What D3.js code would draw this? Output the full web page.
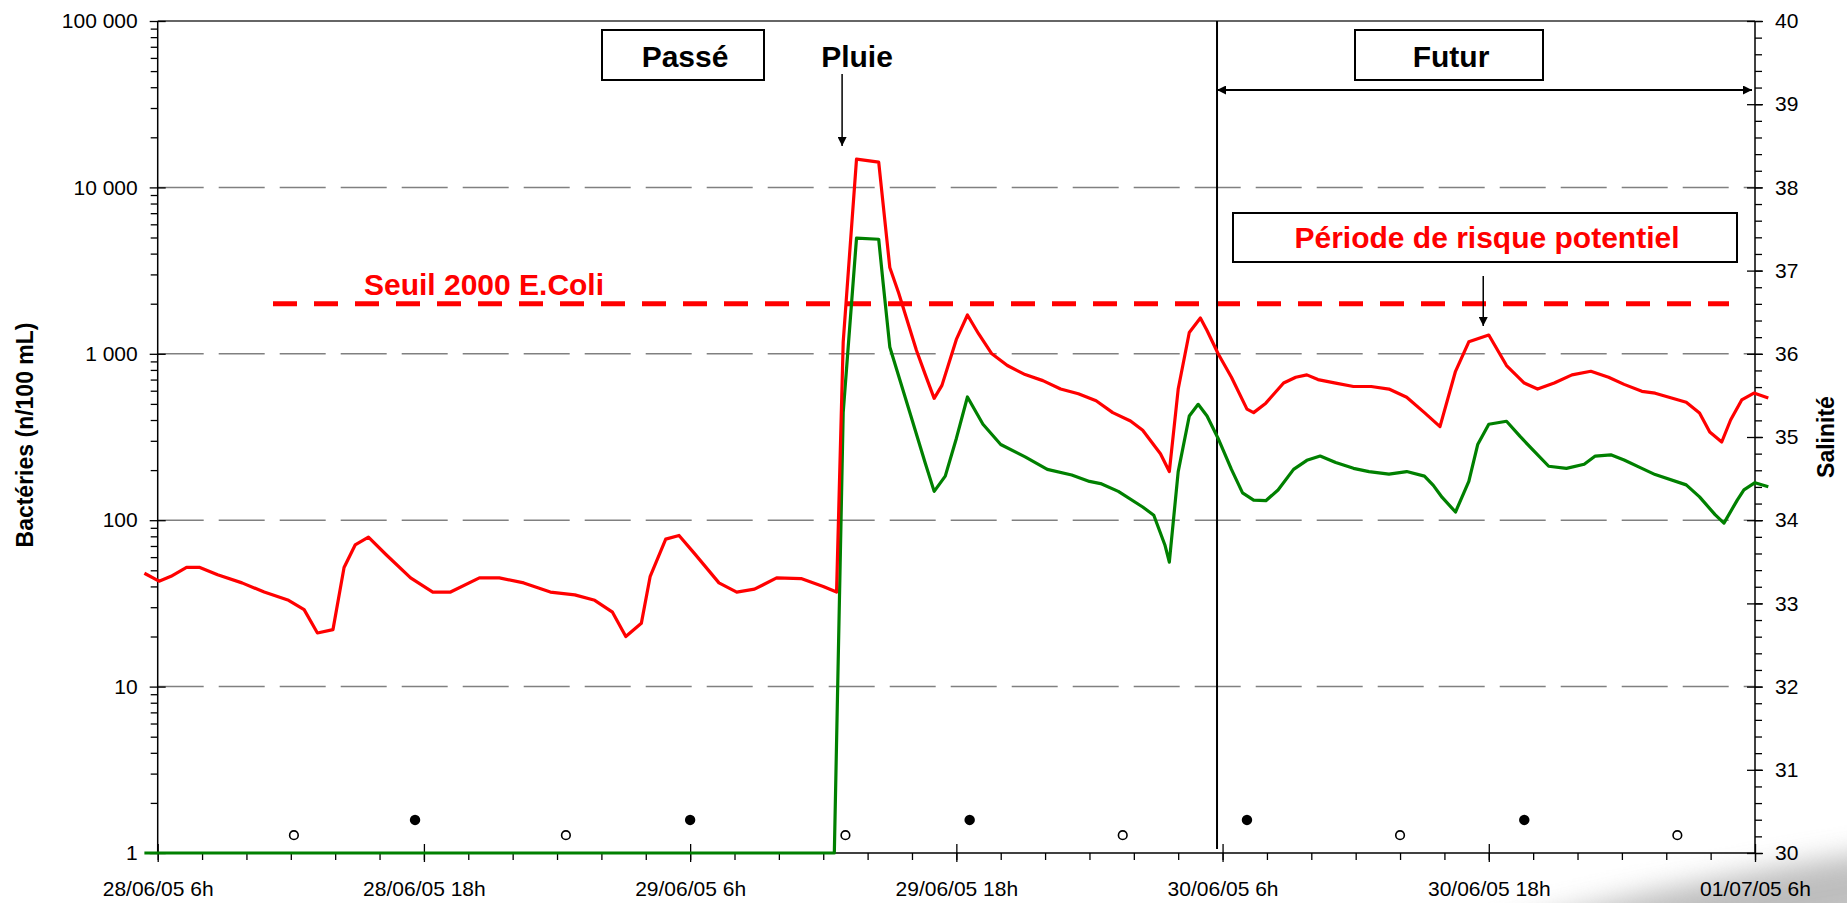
<!DOCTYPE html>
<html>
<head>
<meta charset="utf-8">
<script src="https://cdn.jsdelivr.net/npm/d3@7"></script>
<style>
  body { margin: 0; background: #fff; }
  svg { display: block; font-family: "Liberation Sans", Arial, sans-serif; }
</style>
</head>
<body>
<div class="chart"></div>
<script>
(function() {
  'use strict';

  const WIDTH = 1847;
  const HEIGHT = 903;

  // Time origin: 28/06/05 6h, all series given in hours after it
  const START = new Date(2005, 5, 28, 6);
  const X_TICK_HOURS = [0, 12, 24, 36, 48, 60, 72];
  const LEFT_TICKS = [1, 10, 100, 1000, 10000, 100000];
  const RIGHT_TICKS = [30, 31, 32, 33, 34, 35, 36, 37, 38, 39, 40];
  const THRESHOLD = 2000;

  // Red series (E.Coli)
  const RED_HOURS = [-0.6, 0.06, 0.6, 1.3, 1.9, 2.7, 3.8, 4.8, 5.9, 6.6, 7.2, 7.9, 8.4, 8.9, 9.5,
    10.3, 11.4, 12.4, 13.2, 14.5, 15.4, 16.5, 17.7, 18.8, 19.7, 20.5, 21.1, 21.8, 22.2, 22.9,
    23.5, 24.2, 25.3, 26.1, 26.9, 27.9, 29.0, 30.0, 30.6, 30.9, 31.5, 32.5, 33.0, 33.4, 34.2,
    34.6, 35.0, 35.35, 36.0, 36.5, 37.0, 37.6, 38.3, 39.1, 39.9, 40.7, 41.5, 42.3, 43.05, 43.85,
    44.4, 45.2, 45.6, 46.0, 46.5, 47.0, 47.3, 47.8, 48.4, 49.1, 49.4, 49.95, 50.75, 51.3, 51.8,
    52.3, 53.1, 53.9, 54.7, 55.5, 56.3, 57.1, 57.8, 58.5, 59.1, 60.0, 60.8, 61.6, 62.2, 62.95,
    63.75, 64.6, 65.4, 66.1, 66.9, 67.5, 68.9, 69.5, 69.96, 70.5, 70.9, 71.4, 71.95, 72.6];
  const RED_VALUES = [48, 43, 46, 52, 52, 47, 42, 37, 33, 29, 21, 22, 52, 71, 79,
    62, 45, 37, 37, 45, 45, 42, 37, 35.6, 33, 28, 20, 24, 46, 77,
    81, 63, 42, 37, 38.5, 45, 44.6, 40, 37, 1180, 14800, 14200, 3300, 2320, 1050,
    750, 540, 646, 1220, 1710, 1320, 1000, 850, 750, 690, 615, 575, 522, 443, 395,
    347, 251, 196, 614, 1343, 1640, 1380, 1000, 723, 465, 443, 505, 667, 723, 747,
    700, 667, 636, 636, 614, 548, 443, 365, 785, 1180, 1297, 850, 667, 614, 667,
    747, 785, 723, 655, 595, 580, 512, 441, 339, 295, 400, 528, 581, 542];

  // Green series
  const GREEN_HOURS = [-0.6, 30.5, 30.9, 31.5, 32.5, 32.7, 33.0, 33.9, 34.6, 35.0, 35.5, 36.0,
    36.5, 37.2, 38.0, 39.1, 40.1, 41.2, 42.0, 42.5, 43.3, 44.4, 44.9, 45.4, 45.6, 46.0, 46.5,
    46.9, 47.3, 47.8, 48.4, 48.9, 49.4, 49.95, 50.5, 51.2, 51.8, 52.4, 53.1, 53.9, 54.6, 55.5,
    56.3, 57.1, 57.5, 57.9, 58.5, 59.1, 59.5, 60.0, 60.8, 61.4, 61.9, 62.7, 63.5, 64.3, 64.8,
    65.5, 66.1, 66.9, 67.5, 68.9, 69.5, 70.2, 70.6, 71.2, 71.5, 72.0, 72.6];
  const GREEN_VALUES = [1, 1, 445, 4960, 4880, 2660, 1100, 445, 220, 149, 184, 310,
    550, 377, 285, 240, 202, 187, 171, 166, 149, 120, 107, 71, 56, 196, 423,
    497, 423, 310, 202, 146, 132, 131, 152, 202, 229, 243, 222, 205, 196, 189,
    196, 184, 162, 137, 112, 171, 285, 377, 393, 320, 272, 211, 205, 217, 243,
    247, 230, 205, 188, 163, 138, 108, 96, 132, 152, 168, 159];

  // Tide markers (open = low, filled = high)
  const LOW_TIDE_HOURS = [6.14, 18.4, 31.0, 43.5, 56.0, 68.5];
  const HIGH_TIDE_HOURS = [11.6, 24.0, 36.6, 49.1, 61.6];
  const LOW_TIDE_LEVEL = 1.28;
  const HIGH_TIDE_LEVEL = 1.58;

  // Annotation anchors (hours)
  const NOW_HOUR = 47.75;
  const RAIN_HOUR = 30.85;
  const RISK_HOUR = 59.75;

  const hour = function(h) { return new Date(START.getTime() + h * 3600e3); };

  const x = d3.scaleTime()
    .domain([hour(0), hour(72)])
    .range([157.7, 1755]);
  const y = d3.scaleLog()
    .domain([1, 100000])
    .range([853, 21]);
  const yR = d3.scaleLinear()
    .domain([30, 40])
    .range([853, 21]);

  const svg = d3.select('.chart')
    .append('svg')
    .attr('width', WIDTH)
    .attr('height', HEIGHT);

  const defs = svg.append('defs');
  defs.append('marker')
    .attr('id', 'arrow')
    .attr('viewBox', '0 0 10 10')
    .attr('refX', 10).attr('refY', 5)
    .attr('markerUnits', 'userSpaceOnUse')
    .attr('markerWidth', 10).attr('markerHeight', 9)
    .attr('orient', 'auto-start-reverse')
    .append('path').attr('d', 'M0,0L10,5L0,10z').attr('fill', '#000');
  defs.append('filter')
    .attr('id', 'blur')
    .attr('x', '-50%').attr('y', '-50%').attr('width', '200%').attr('height', '200%')
    .append('feGaussianBlur').attr('stdDeviation', 14);

  // corner shadow
  svg.append('ellipse')
    .attr('cx', 1790).attr('cy', 900)
    .attr('rx', 360).attr('ry', 34)
    .attr('transform', 'rotate(-10 1790 900)')
    .attr('fill', '#a8a8a8')
    .attr('opacity', 0.75)
    .attr('filter', 'url(#blur)');

  const fmt = d3.formatLocale({decimal: ',', thousands: ' ', grouping: [3], currency: ['', '']}).format(',');

  // Grid lines
  svg.append('g')
    .selectAll('line')
    .data(LEFT_TICKS.slice(1, -1))
    .join('line')
    .attr('x1', x.range()[0]).attr('x2', x.range()[1])
    .attr('y1', d => y(d)).attr('y2', d => y(d))
    .attr('stroke', '#808080')
    .attr('stroke-width', 1.5)
    .attr('stroke-dasharray', '46,15');
  svg.append('line')
    .attr('x1', x.range()[0]).attr('x2', x.range()[1])
    .attr('y1', y(100000)).attr('y2', y(100000))
    .attr('stroke', '#333').attr('stroke-width', 1.5);

  // Left axis
  const minorLeft = [];
  LEFT_TICKS.slice(0, -1).forEach(function(d) {
    for (let k = 2; k < 10; ++k) minorLeft.push(d * k);
  });
  svg.append('g')
    .attr('transform', 'translate(' + x.range()[0] + ',0)')
    .call(d3.axisLeft(y).tickValues(minorLeft).tickSize(7).tickFormat(''))
    .call(g => g.select('.domain').remove());
  const gL = svg.append('g')
    .attr('transform', 'translate(' + x.range()[0] + ',0)')
    .call(d3.axisLeft(y).tickValues(LEFT_TICKS).tickSize(8).tickPadding(12).tickFormat(fmt));
  gL.selectAll('.tick line').attr('x1', 8);
  gL.select('.domain').attr('d', 'M0,' + y(1) + 'V' + y(100000)).attr('stroke-width', 1.5);

  // Right axis
  const minorRight = d3.range(30, 40.01, 0.2);
  svg.append('g')
    .attr('transform', 'translate(' + x.range()[1] + ',0)')
    .call(d3.axisRight(yR).tickValues(minorRight).tickSize(7).tickFormat(''))
    .call(g => g.select('.domain').remove());
  const gR = svg.append('g')
    .attr('transform', 'translate(' + x.range()[1] + ',0)')
    .call(d3.axisRight(yR).tickValues(RIGHT_TICKS).tickSize(8).tickPadding(12).tickFormat(d3.format('d')));
  gR.selectAll('.tick line').attr('x1', -8);
  gR.select('.domain').attr('d', 'M0,' + yR(30) + 'V' + yR(40)).attr('stroke-width', 1.5);

  // Bottom axis
  svg.append('g')
    .attr('transform', 'translate(0,' + y(1) + ')')
    .call(d3.axisBottom(x).tickValues(d3.range(0, 73, 2).map(hour)).tickSize(7).tickFormat(''))
    .call(g => g.select('.domain').remove());
  const gB = svg.append('g')
    .attr('transform', 'translate(0,' + y(1) + ')')
    .call(d3.axisBottom(x).tickValues(X_TICK_HOURS.map(hour)).tickSize(9).tickPadding(19)
      .tickFormat(d3.timeFormat('%d/%m/%y %-Hh')));
  gB.selectAll('.tick line').attr('y1', -9);
  gB.select('.domain').attr('d', 'M' + x.range()[0] + ',0H' + x.range()[1]).attr('stroke-width', 1.5);

  svg.selectAll('.tick text')
    .attr('font-family', '"Liberation Sans", Arial, sans-serif')
    .attr('font-size', 21)
    .attr('fill', '#000');
  svg.selectAll('.tick line').attr('stroke', '#000').attr('stroke-width', 1.3);

  // Axis titles
  svg.append('text')
    .attr('transform', 'translate(25,435) rotate(-90)')
    .attr('text-anchor', 'middle')
    .attr('dominant-baseline', 'central')
    .attr('font-size', 23).attr('font-weight', 'bold')
    .text('Bactéries (n/100 mL)');
  svg.append('text')
    .attr('transform', 'translate(1826,437) rotate(-90)')
    .attr('text-anchor', 'middle')
    .attr('dominant-baseline', 'central')
    .attr('font-size', 23).attr('font-weight', 'bold')
    .text('Salinité');

  // Threshold
  svg.append('line')
    .attr('x1', 273).attr('x2', 1729)
    .attr('y1', y(THRESHOLD)).attr('y2', y(THRESHOLD))
    .attr('stroke', '#ff0000')
    .attr('stroke-width', 5)
    .attr('stroke-dasharray', '24,17');
  svg.append('text')
    .attr('x', 484).attr('y', 295)
    .attr('text-anchor', 'middle')
    .attr('font-size', 30).attr('font-weight', 'bold')
    .attr('fill', '#ff0000')
    .text('Seuil 2000 E.Coli');

  // Now line + future arrow
  svg.append('line')
    .attr('x1', x(hour(NOW_HOUR))).attr('x2', x(hour(NOW_HOUR)))
    .attr('y1', y(100000)).attr('y2', 849)
    .attr('stroke', '#000').attr('stroke-width', 2);
  svg.append('line')
    .attr('x1', x(hour(NOW_HOUR))).attr('x2', x.range()[1] - 3)
    .attr('y1', 90).attr('y2', 90)
    .attr('stroke', '#000').attr('stroke-width', 2)
    .attr('marker-start', 'url(#arrow)')
    .attr('marker-end', 'url(#arrow)');

  // Boxed labels
  const boxes = [
    {x0: 602, x1: 764, y0: 30, y1: 80, text: 'Passé', color: '#000', base: 67},
    {x0: 1355, x1: 1543, y0: 30, y1: 80, text: 'Futur', color: '#000', base: 67},
    {x0: 1233, x1: 1737, y0: 213, y1: 262, text: 'Période de risque potentiel', color: '#ff0000', base: 248}
  ];
  const gBox = svg.append('g');
  boxes.forEach(function(b) {
    gBox.append('rect')
      .attr('x', b.x0).attr('y', b.y0)
      .attr('width', b.x1 - b.x0).attr('height', b.y1 - b.y0)
      .attr('fill', '#fff').attr('stroke', '#000').attr('stroke-width', 2);
    gBox.append('text')
      .attr('x', (b.x0 + b.x1) / 2 + 2).attr('y', b.base)
      .attr('text-anchor', 'middle')
      .attr('font-size', 30).attr('font-weight', 'bold')
      .attr('fill', b.color)
      .text(b.text);
  });

  svg.append('text')
    .attr('x', 857).attr('y', 67)
    .attr('text-anchor', 'middle')
    .attr('font-size', 30).attr('font-weight', 'bold')
    .text('Pluie');
  svg.append('line')
    .attr('x1', x(hour(RAIN_HOUR))).attr('x2', x(hour(RAIN_HOUR)))
    .attr('y1', 74).attr('y2', 146)
    .attr('stroke', '#000').attr('stroke-width', 1.5)
    .attr('marker-end', 'url(#arrow)');
  svg.append('line')
    .attr('x1', x(hour(RISK_HOUR))).attr('x2', x(hour(RISK_HOUR)))
    .attr('y1', 276).attr('y2', 326)
    .attr('stroke', '#000').attr('stroke-width', 1.5)
    .attr('marker-end', 'url(#arrow)');

  // Series
  const line = d3.line()
    .x(d => x(hour(d[0])))
    .y(d => y(d[1]));
  svg.append('path')
    .datum(d3.zip(GREEN_HOURS, GREEN_VALUES))
    .attr('d', line)
    .attr('fill', 'none')
    .attr('stroke', '#008000')
    .attr('stroke-width', 3.2)
    .attr('stroke-linejoin', 'round');
  svg.append('path')
    .datum(d3.zip(RED_HOURS, RED_VALUES))
    .attr('d', line)
    .attr('fill', 'none')
    .attr('stroke', '#ff0000')
    .attr('stroke-width', 3.2)
    .attr('stroke-linejoin', 'round');

  // Tide markers
  svg.append('g')
    .selectAll('circle')
    .data(LOW_TIDE_HOURS)
    .join('circle')
    .attr('cx', d => x(hour(d)))
    .attr('cy', y(LOW_TIDE_LEVEL))
    .attr('r', 4.3)
    .attr('fill', '#fff')
    .attr('stroke', '#000')
    .attr('stroke-width', 1.6);
  svg.append('g')
    .selectAll('circle')
    .data(HIGH_TIDE_HOURS)
    .join('circle')
    .attr('cx', d => x(hour(d)))
    .attr('cy', y(HIGH_TIDE_LEVEL))
    .attr('r', 5.2)
    .attr('fill', '#000');
})();
</script>
</body>
</html>
